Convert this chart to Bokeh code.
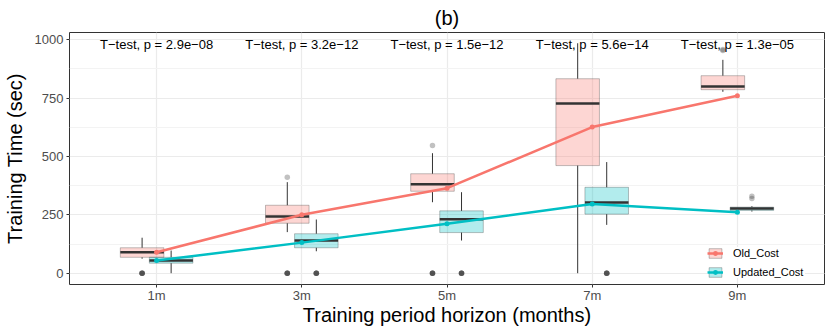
import math
from bokeh.plotting import figure
from bokeh.models import (FactorRange, Range1d, SingleIntervalTicker, Legend, LegendItem,
                          ColumnDataSource, Title)
from bokeh.transform import dodge
from bokeh.embed import file_html
from bokeh.resources import INLINE
from bokeh.core.properties import value

# ---------------- data ----------------
months = ["1m", "3m", "5m", "7m", "9m"]

old_lower = [62, 176, 304, 0, 777]
old_q1 = [68, 214, 351, 461, 786]
old_med = [90, 243, 381, 727, 800]
old_q3 = [109, 291, 426, 833, 846]
old_upper = [152, 390, 514, 985, 914]
old_mean = [90, 250, 364, 626, 760]
old_outliers = {"1m": [0, 0, 0, 0, 0], "3m": [411, 0, 0, 0, 0, 0], "5m": [547, 0, 0, 0, 0, 0],
                "7m": [], "9m": [954, 958]}

upd_lower = [0, 94, 140, 207, 264]
upd_q1 = [43, 109, 174, 253, 269]
upd_med = [54, 140, 231, 303, 277]
upd_q3 = [68, 169, 267, 368, 283]
upd_upper = [97, 230, 347, 476, 287]
upd_mean = [54, 131, 212, 296, 261]
upd_outliers = {"1m": [], "3m": [0, 0, 0, 0, 0], "5m": [0, 0, 0, 0, 0],
                "7m": [0, 0, 0, 0, 0], "9m": [330, 320]}

p_labels = ["T\u2212test, p = 2.9e\u221208", "T\u2212test, p = 3.2e\u221212",
            "T\u2212test, p = 1.5e\u221212", "T\u2212test, p = 5.6e\u221214",
            "T\u2212test, p = 1.3e\u221205"]

series_names = ["Old_Cost", "Updated_Cost"]
y_ticks_interval = 250

# ---------------- figure ----------------
FONT = "Liberation Sans"
OLD_COL = "#F8766D"
UPD_COL = "#00BFC4"

p = figure(width=830, height=332,
           x_range=FactorRange(factors=months, range_padding=0.1, range_padding_units="absolute"),
           y_range=Range1d(-48.4, 1031),
           output_backend="svg", toolbar_location=None,
           min_border_left=65, min_border_right=6, min_border_top=32, min_border_bottom=48)

p.title = Title(text="(b)", align="center", text_font=FONT, text_font_size="20px",
                text_font_style="normal", text_color="black", standoff=7, offset=0)

p.background_fill_color = "white"
p.border_fill_color = "white"
p.outline_line_color = "#333333"
p.outline_line_width = 1

p.yaxis.ticker = SingleIntervalTicker(interval=y_ticks_interval, num_minor_ticks=2)
for ax in (p.xaxis[0], p.yaxis[0]):
    ax.axis_line_color = None
    ax.major_tick_line_color = "#333333"
    ax.major_tick_out = 3
    ax.major_tick_in = 0
    ax.minor_tick_line_color = None
    ax.major_label_text_font = FONT
    ax.major_label_text_font_size = "13px"
    ax.major_label_text_color = "#4D4D4D"
    ax.axis_label_text_font = FONT
    ax.axis_label_text_font_size = "20px"
    ax.axis_label_text_font_style = "normal"
    ax.axis_label_text_color = "black"

p.xaxis.major_label_standoff = 0
p.xaxis.axis_label_standoff = -2
p.yaxis.major_label_standoff = 2
p.yaxis.axis_label_standoff = 6

p.xaxis.axis_label = "Training period horizon (months)"
p.yaxis.axis_label = "Training Time (sec)"

p.xgrid.grid_line_color = "#EBEBEB"
p.xgrid.grid_line_width = 1.2
p.ygrid.grid_line_color = "#EBEBEB"
p.ygrid.grid_line_width = 1.2
p.ygrid.minor_grid_line_color = "#F3F3F3"
p.ygrid.minor_grid_line_width = 1


def draw_boxes(off, lower, q1, med, q3, upper, outliers, fill):
    src = ColumnDataSource(dict(month=months, lower=lower, q1=q1, med=med, q3=q3, upper=upper))
    xc = dodge("month", off, range=p.x_range)
    p.segment(x0=xc, x1=xc, y0="q3", y1="upper", source=src, line_color="#333333", line_width=1)
    p.segment(x0=xc, x1=xc, y0="q1", y1="lower", source=src, line_color="#333333", line_width=1)
    box = p.vbar(x=xc, width=0.3, bottom="q1", top="q3", source=src,
                 fill_color=fill, fill_alpha=0.3, line_color="#333333", line_alpha=0.3, line_width=1)
    p.segment(x0=dodge("month", off - 0.15, range=p.x_range),
              x1=dodge("month", off + 0.15, range=p.x_range),
              y0="med", y1="med", source=src, line_color="#333333", line_width=2.5, line_cap="butt")
    om, ov = [], []
    for m in months:
        for v in outliers[m]:
            om.append(m)
            ov.append(v)
    osrc = ColumnDataSource(dict(month=om, val=ov))
    p.scatter(x=xc, y="val", source=osrc, size=5.5, fill_color="#333333", fill_alpha=0.3,
              line_color=None)
    return box


box_old = draw_boxes(-0.1, old_lower, old_q1, old_med, old_q3, old_upper, old_outliers, OLD_COL)
box_upd = draw_boxes(0.1, upd_lower, upd_q1, upd_med, upd_q3, upd_upper, upd_outliers, UPD_COL)

msrc_old = ColumnDataSource(dict(month=months, mean=old_mean))
msrc_upd = ColumnDataSource(dict(month=months, mean=upd_mean))
ln_old = p.line(x="month", y="mean", source=msrc_old, line_color=OLD_COL, line_width=2.5)
pt_old = p.scatter(x="month", y="mean", source=msrc_old, size=5, fill_color=OLD_COL, line_color=None)
ln_upd = p.line(x="month", y="mean", source=msrc_upd, line_color=UPD_COL, line_width=2.5)
pt_upd = p.scatter(x="month", y="mean", source=msrc_upd, size=5, fill_color=UPD_COL, line_color=None)

tsrc = ColumnDataSource(dict(month=months, label=p_labels))
p.text(x="month", y=980, text="label", source=tsrc, text_align="center", text_baseline="middle",
       text_font=value(FONT), text_font_size="13px", text_color="black")

# legend
dash_old = p.scatter(x=[], y=[], marker="dash", angle=math.pi / 2, size=20, line_color="#333333", line_width=1)
dash_upd = p.scatter(x=[], y=[], marker="dash", angle=math.pi / 2, size=20, line_color="#333333", line_width=1)
items = [LegendItem(label=series_names[0], renderers=[box_old, dash_old, ln_old, pt_old]),
         LegendItem(label=series_names[1], renderers=[box_upd, dash_upd, ln_upd, pt_upd])]
legend = Legend(items=items, location=(638, 6), background_fill_color="white", background_fill_alpha=1,
                border_line_color=None, label_text_font=FONT, label_text_font_size="11px",
                label_text_color="black", glyph_width=16, glyph_height=12, spacing=7, padding=8,
                margin=0, label_standoff=10, label_width=72)
p.add_layout(legend)

open("out.html", "w").write(file_html(p, INLINE))
